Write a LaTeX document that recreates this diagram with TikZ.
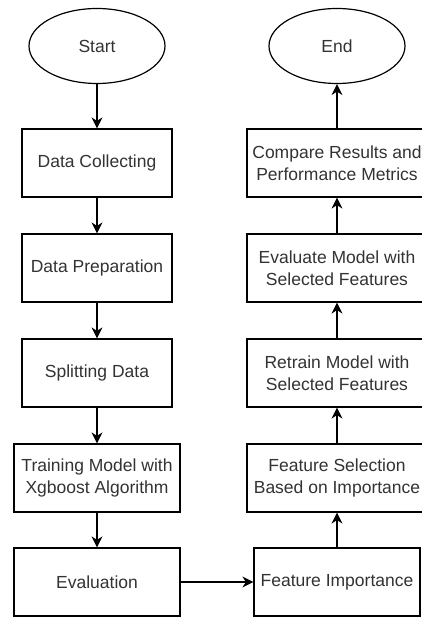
\documentclass[tikz,border=0pt]{standalone}
\usepackage{fontspec}
\setmainfont{Liberation Sans}
\usetikzlibrary{arrows.meta,shapes.geometric}
\begin{document}
\begin{tikzpicture}[x=1pt,y=-1pt,
  every node/.style={font=\fontsize{17.5}{21.5}\selectfont, text=black!80, align=center, inner sep=0pt},
  term/.style={draw=black, line width=1.2pt, ellipse, minimum width=136pt, minimum height=75pt},
  procbox/.style={draw=black, line width=1.2pt, rectangle, minimum height=68pt},
  flow/.style={draw=black, line width=1.2pt, -{Stealth[length=11pt,width=11pt,inset=3.5pt]}}
]
\clip (0,0) rectangle (422,617);
\fill[white] (0,0) rectangle (422,617);
% left column
\node[term] (start) at (97,46) {Start};
\node[procbox, minimum width=150pt] (dc) at (97,163) {Data Collecting};
\node[procbox, minimum width=150pt] (dp) at (97,268) {Data Preparation};
\node[procbox, minimum width=150pt] (sd) at (97,373) {Splitting Data};
\node[procbox, minimum width=166pt] (tm) at (97,478) {Training Model with\\Xgboost Algorithm};
\node[procbox, minimum width=166pt] (ev) at (97,582) {Evaluation};
% right column
\node[procbox, minimum width=166pt] (fi) at (337,582) {Feature Importance};
\node[procbox, minimum width=180pt] (fs) at (337,478) {Feature Selection\\Based on Importance};
\node[procbox, minimum width=180pt] (rt) at (337,373) {Retrain Model with\\Selected Features};
\node[procbox, minimum width=180pt] (em) at (337,268) {Evaluate Model with\\Selected Features};
\node[procbox, minimum width=180pt] (cr) at (337,163) {Compare Results and\\Performance Metrics};
\node[term] (end) at (337,46) {End};
% connectors
\draw[flow] (start) -- (dc);
\draw[flow] (dc) -- (dp);
\draw[flow] (dp) -- (sd);
\draw[flow] (sd) -- (tm);
\draw[flow] (tm) -- (ev);
\draw[flow] (ev) -- (fi);
\draw[flow] (fi) -- (fs);
\draw[flow] (fs) -- (rt);
\draw[flow] (rt) -- (em);
\draw[flow] (em) -- (cr);
\draw[flow] (cr) -- (end);
\end{tikzpicture}
\end{document}
